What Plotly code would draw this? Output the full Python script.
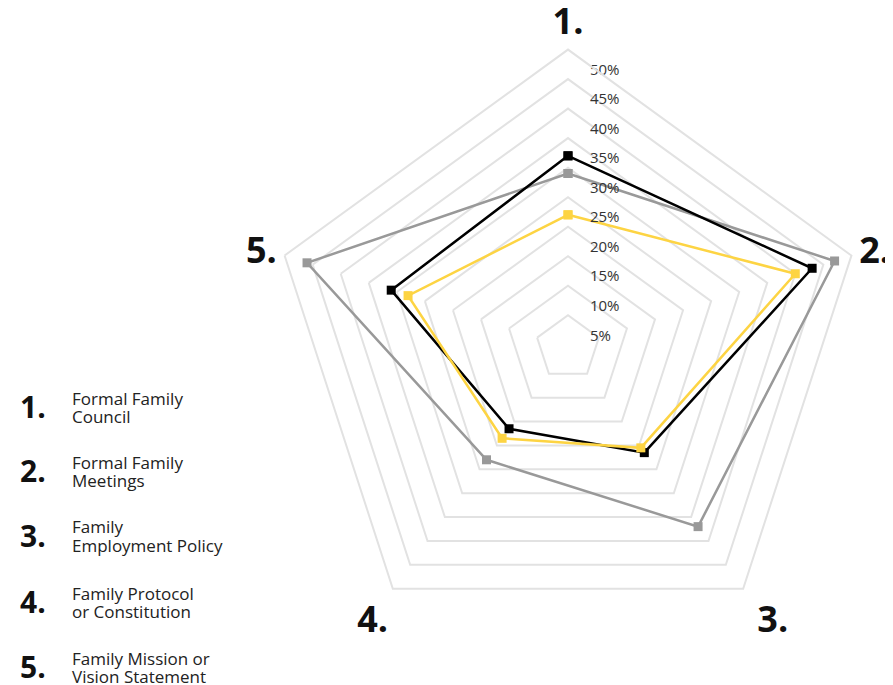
import plotly.graph_objects as go

# The page body has an 8px default margin; work in screen pixels and subtract it.
OFF = 8
W, H = 893 - OFF, 685 - OFF

# ---- data ----
categories = ["1.", "2.", "3.", "4.", "5."]
series_black = [32, 43, 21.5, 16.5, 31]
series_grey = [29, 47, 37, 23, 46]
series_yellow = [22, 40, 20.5, 18.5, 28]
tick_values = [5, 10, 15, 20, 25, 30, 35, 40, 45, 50]
tick_labels = [f"{v}%" for v in tick_values]

legend_numbers = ["1.", "2.", "3.", "4.", "5."]
legend_lines = [
    ["Formal Family", "Council"],
    ["Formal Family", "Meetings"],
    ["Family", "Employment Policy"],
    ["Family Protocol", "or Constitution"],
    ["Family Mission or", "Vision Statement"],
]
legend_rows_px = [406.5, 470.4, 535, 601.3, 666.3]
LINE_GAP = 18.4

FONT = "Open Sans"
BLACK = "#000000"
GREY = "#999999"
YELLOW = "#FDD443"
GRID = "#e2e2e2"


def px_x(x):
    return (x - OFF) / W


def px_y(y):
    return 1 - (y - OFF) / H


fig = go.Figure()


def closed(vals):
    return list(vals) + [vals[0]]


for vals, col in [(series_grey, GREY), (series_black, BLACK), (series_yellow, YELLOW)]:
    fig.add_trace(go.Scatterpolar(
        r=closed(vals), theta=closed(categories),
        mode="lines+markers",
        line=dict(color=col, width=2.5),
        marker=dict(symbol="square", size=9, color=col),
        showlegend=False, hoverinfo="skip",
    ))

# radial tick labels placed along axis 1
fig.add_trace(go.Scatterpolar(
    r=tick_values, theta=[categories[0]] * len(tick_values),
    mode="markers+text",
    text=["\u00a0\u00a0" + t for t in tick_labels],
    textposition="bottom right",
    textfont=dict(family=FONT, size=15, color="#333333"),
    marker=dict(size=21, color="rgba(0,0,0,0)"),
    showlegend=False, hoverinfo="skip", cliponaxis=False,
))

cx, cy, R = 568, 347.6, 298
angular_ticktext = ["1.", "2.", "\u00a03.", "4.", "5."]
fig.update_layout(
    width=W, height=H,
    margin=dict(l=0, r=0, t=0, b=0),
    paper_bgcolor="white", plot_bgcolor="white",
    polar=dict(
        domain=dict(x=[px_x(cx - R), px_x(cx + R)], y=[px_y(cy + R), px_y(cy - R)]),
        bgcolor="white",
        gridshape="linear",
        radialaxis=dict(
            range=[-0.5, 50], tickvals=tick_values, showticklabels=False,
            showline=False, ticks="", gridcolor=GRID, gridwidth=2, angle=90,
        ),
        angularaxis=dict(
            direction="clockwise", rotation=90, showgrid=False,
            showline=True, linecolor=GRID, linewidth=2, ticks="",
            tickmode="array", tickvals=categories, ticktext=angular_ticktext,
            tickfont=dict(family=FONT, size=36, color="#111111", weight="bold"),
        ),
    ),
)

annotations = []
for num, lines, ypx in zip(legend_numbers, legend_lines, legend_rows_px):
    annotations.append(dict(
        x=px_x(18), y=px_y(ypx), xref="paper", yref="paper",
        xanchor="left", yanchor="middle", showarrow=False,
        text=num, font=dict(family=FONT, size=30, color="#111111", weight="bold"),
    ))
    for i, line in enumerate(lines):
        annotations.append(dict(
            x=px_x(70), y=px_y(ypx + (i - 0.5) * LINE_GAP + 1), xref="paper", yref="paper",
            xanchor="left", yanchor="middle", showarrow=False, align="left",
            text=line, font=dict(family=FONT, size=17, color="#222222"),
        ))
fig.update_layout(annotations=annotations)

fig.write_html("out.html")
